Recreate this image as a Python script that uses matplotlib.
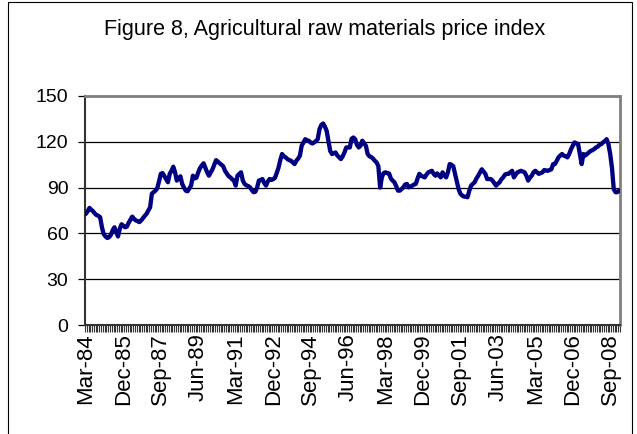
import matplotlib
matplotlib.use("Agg")
import matplotlib.pyplot as plt
from matplotlib.ticker import FixedLocator
from matplotlib.patches import Rectangle

plt.rcParams['font.family'] = ['Liberation Sans', 'DejaVu Sans']

title = "Figure 8, Agricultural raw materials price index"
start_year = 1984
start_month = 3  # March
months_abbr = ["Jan", "Feb", "Mar", "Apr", "May", "Jun",
               "Jul", "Aug", "Sep", "Oct", "Nov", "Dec"]

# Monthly index values, Mar-84 onwards (one row per 12 months)
values = [
    72.8, 74.5, 76.7, 75.5, 74.5, 73, 72, 71.5, 70.6, 64, 59.5, 58,
    57, 57.5, 59, 62, 64, 61, 58, 63, 66, 65, 64, 64.5,
    67, 69, 71, 69.5, 68.5, 68, 67.4, 68.5, 70, 71.5, 72.8, 75,
    77, 86, 87, 88, 89.5, 94, 99, 99.5, 97.5, 95.6, 93.5, 99,
    101, 103.7, 100, 94.6, 96, 97.4, 92.4, 90, 88, 87.6, 89.5, 91.3,
    97.8, 96, 96.5, 100, 102.8, 104.5, 105.9, 103, 100, 97.8, 100, 102,
    105, 108, 107, 105.9, 105, 104, 101, 99.3, 97.5, 96.7, 95.5, 94.6,
    91.3, 97.8, 99, 100, 94.6, 92.4, 91.5, 91, 90.2, 88.5, 87, 87.3,
    90, 94.6, 95, 95.6, 93, 91.3, 94, 95.6, 95, 95.5, 96.3, 99.5,
    103, 108, 112, 110.5, 109.8, 108.7, 108, 107.6, 106.5, 105.4, 107.6, 109,
    110.9, 117.4, 119.5, 121.7, 121, 120.7, 119.5, 118.9, 119.6, 120.5, 121.7, 128.3,
    131, 132, 130, 127.2, 120.7, 114, 112, 112.5, 113, 111, 109.8, 108.7,
    110.5, 113, 116.3, 116.3, 116.3, 122, 122.8, 121.7, 118, 116.3, 117.4, 120.7,
    119, 117.4, 112, 110.5, 110, 109, 107.6, 106.5, 104, 90, 97, 99.5,
    100, 99.5, 99.3, 96, 94.6, 93.5, 91, 88, 88, 89, 90.2, 92,
    92.4, 90.2, 90.5, 91.3, 92, 92.4, 96, 99, 97.8, 97.2, 96.7, 98.5,
    100, 100.5, 101, 99, 97.8, 99.3, 98, 96.7, 100, 98, 96.7, 100,
    105.4, 105, 104, 99, 94, 89, 86, 84.8, 84.1, 84, 83.7, 88,
    91.3, 92.5, 93.5, 96, 97.8, 100, 102, 100.5, 99, 95.6, 95.6, 95.6,
    94.6, 93, 91.3, 92.5, 93.5, 95.5, 96.7, 98.5, 99, 99, 100, 101,
    96.7, 98.5, 100, 100.5, 101, 100.5, 100, 97.8, 94.6, 96.5, 97.8, 100,
    101, 100, 99, 99.5, 100, 101.5, 101.2, 101, 101.5, 102, 105.4, 105.4,
    107.5, 109.8, 111, 112, 110.9, 110.5, 109.8, 112, 115, 117.4, 119.6, 119,
    118.5, 112, 105.4, 112, 111, 112, 113, 114, 114.5, 115.2, 116.3, 116.8,
    118, 118.5, 119.6, 120.5, 121.7, 118.5, 112, 103, 89, 87, 87, 88,
]

labels_all = []
for i in range(len(values)):
    mi = (start_month - 1 + i) % 12
    yr = (start_year + (start_month - 1 + i) // 12) % 100
    labels_all.append(f"{months_abbr[mi]}-{yr:02d}")

label_step = 21
y_ticks = [0, 30, 60, 90, 120, 150]

fig = plt.figure(figsize=(6.37, 4.34), dpi=100)
fig.patches.append(Rectangle((8/637, -0.01), 624/637, 1.0 - 2/434 + 0.01,
                             transform=fig.transFigure, fill=False,
                             edgecolor='black', linewidth=0.8))

ax = fig.add_axes([85/637, 1 - 325/434, 535/637, 229/434])
x = list(range(len(values)))
ax.plot(x, values, color='#000080', linewidth=3.1, solid_joinstyle='round',
        solid_capstyle='round', zorder=3)

ax.set_xlim(-0.5, len(values) - 0.5)
ax.set_ylim(0, 150)
ax.set_yticks(y_ticks)
ax.set_yticklabels([str(v) for v in y_ticks], fontsize=14)
ax.yaxis.grid(True, color='black', linewidth=0.9)
ax.set_axisbelow(True)

major_pos = x[::label_step]
ax.xaxis.set_major_locator(FixedLocator(major_pos))
ax.set_xticklabels([labels_all[i] for i in major_pos], rotation=90, fontsize=16)
ax.xaxis.set_minor_locator(FixedLocator([i - 0.5 for i in range(len(values) + 1)]))
ax.tick_params(axis='x', which='both', direction='out', length=5, width=0.8,
               color='#333333', pad=6)
ax.tick_params(axis='x', which='major', length=0)
ax.tick_params(axis='y', direction='out', length=5, width=0.9, pad=7)

for s in ['top', 'right']:
    ax.spines[s].set_color('#808080')
    ax.spines[s].set_linewidth(2)
for s in ['left', 'bottom']:
    ax.spines[s].set_color('#333333')
    ax.spines[s].set_linewidth(1.5)

fig.text(325/637, 1 - 29/434, title, ha='center', va='center', fontsize=15.5)

fig.savefig("out.png", dpi=100)
